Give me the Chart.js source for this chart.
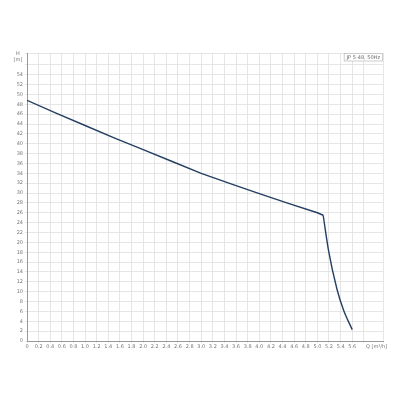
<!DOCTYPE html>
<html>
<head>
<meta charset="utf-8">
<script src="https://cdn.jsdelivr.net/npm/chart.js@4"></script>
<style>
  html, body { margin: 0; padding: 0; background: #fff; }
  #wrap { width: 400px; height: 400px; }
</style>
</head>
<body>
<div id="wrap"><canvas id="pumpCurve"></canvas></div>
<script>
// Q [m3/h] flow and H [m] head
const flow = [0, 0.5, 1.0, 1.5, 2.0, 2.5, 3.0, 3.5, 4.0, 4.5, 5.0, 5.1, 5.19, 5.34, 5.45, 5.6];
const head = [48.8, 46.2, 43.7, 41.2, 38.8, 36.4, 34.0, 31.9, 29.9, 27.9, 26.0, 25.5, 18.5, 10.4, 6.3, 2.3];
const kneeIndex = 11; // where the curve turns sharply down
const curveName = 'JP 5-48, 50Hz';
const xTitle = 'Q [m\u00b3/h]';
const yTitle = ['H', '[m]'];

const gridColor = '#e0e0e0';
const textColor = '#777';
const lineColor = '#243f61';

const points = flow.map((q, i) => ({ x: q, y: head[i] }));

// extra texts: axis names and the small legend box
const labelsPlugin = {
    id: 'labels',
    afterDraw(chart) {
        const { ctx, chartArea, scales } = chart;
        ctx.save();
        ctx.fillStyle = textColor;
        ctx.font = '5px "DejaVu Sans"';
        ctx.textBaseline = 'middle';
        ctx.textAlign = 'center';
        ctx.fillText(yTitle[0], 18, 54);
        ctx.fillText(yTitle[1], 18, 60);
        ctx.textAlign = 'left';
        ctx.fillText(xTitle, 366, scales.x.bottom - scales.x.height + 6);
        // legend box
        const w = ctx.measureText(curveName).width + 6;
        const x = chartArea.right - w, y = chartArea.top;
        ctx.fillStyle = '#fff';
        ctx.fillRect(x, y, w, 8);
        ctx.strokeStyle = '#aaa';
        ctx.lineWidth = 0.6;
        ctx.strokeRect(x + 0.5, y + 0.5, w - 1, 7.5);
        ctx.fillStyle = '#666';
        ctx.fillText(curveName, x + 3, y + 4.5);
        ctx.restore();
    }
};

new Chart(document.getElementById('pumpCurve'), {
    type: 'line',
    data: {
        datasets: [{
            label: curveName,
            data: points.slice(0, kneeIndex + 1),
            borderColor: lineColor,
            borderWidth: 1.4,
            pointRadius: 0,
            tension: 0,
            fill: false
        }, {
            label: curveName,
            data: points.slice(kneeIndex),
            borderColor: lineColor,
            borderWidth: 1.4,
            pointRadius: 0,
            cubicInterpolationMode: 'monotone',
            fill: false
        }]
    },
    options: {
        responsive: true,
        maintainAspectRatio: false,
        animation: false,
        layout: { padding: { left: 0, right: 17, top: 53, bottom: 0 } },
        plugins: { legend: { display: false }, tooltip: { enabled: false } },
        scales: {
            x: {
                type: 'linear',
                min: 0,
                max: 6.13,
                afterFit: s => { s.height = 59; },
                grid: { color: gridColor, lineWidth: 0.8, tickLength: 2 },
                border: { color: '#999' },
                ticks: {
                    stepSize: 0.2,
                    color: textColor,
                    font: { size: 5, family: 'DejaVu Sans' },
                    padding: 1,
                    maxRotation: 0,
                    autoSkip: false,
                    callback: v => v > 5.61 ? '' : (v === 0 ? '0' : v.toFixed(1))
                }
            },
            y: {
                min: 0,
                max: 58.4,
                afterFit: s => { s.width = 27; },
                grid: { color: gridColor, lineWidth: 0.8, tickLength: 2 },
                border: { color: '#999' },
                ticks: {
                    stepSize: 2,
                    color: textColor,
                    font: { size: 5, family: 'DejaVu Sans' },
                    padding: 2,
                    autoSkip: false,
                    callback: v => v > 54 ? '' : String(v)
                }
            }
        }
    },
    plugins: [labelsPlugin]
});
</script>
</body>
</html>
